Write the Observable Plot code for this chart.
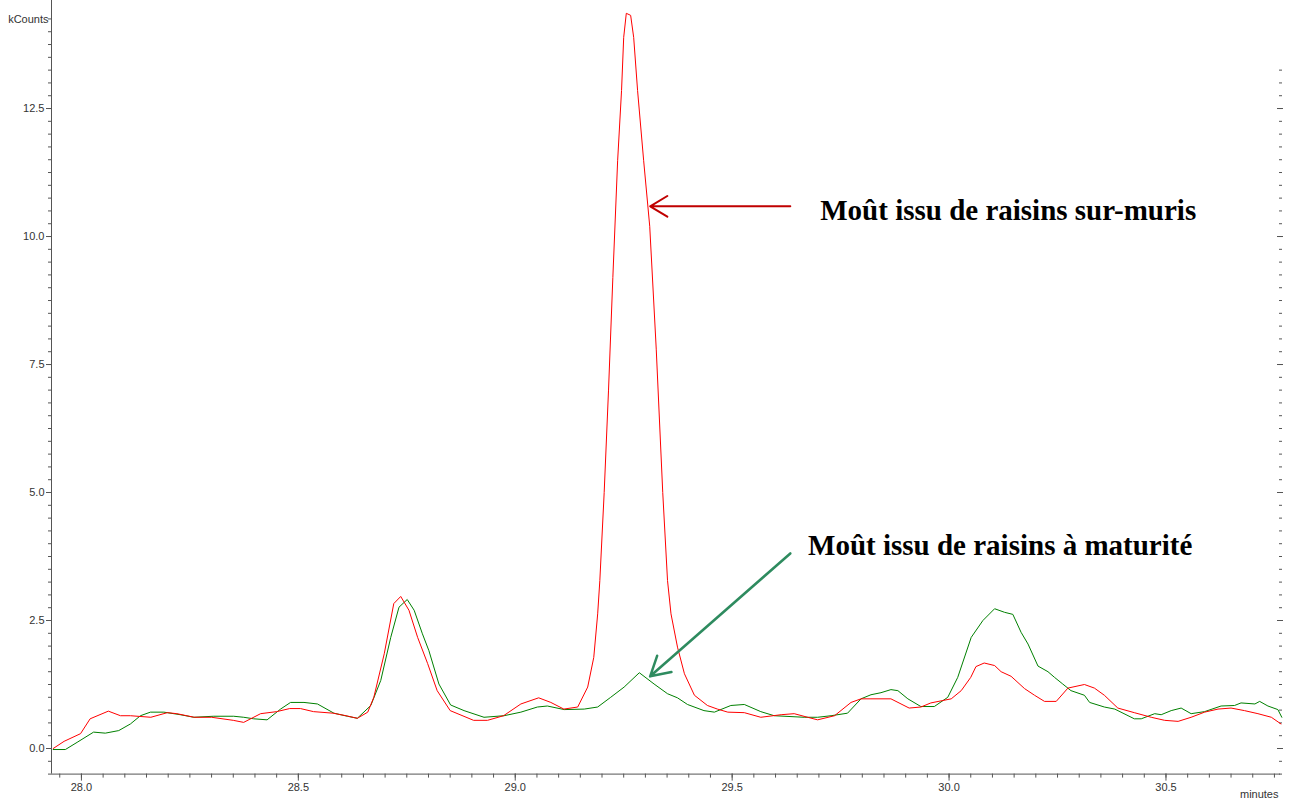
<!DOCTYPE html>
<html><head><meta charset="utf-8">
<script src="https://cdn.jsdelivr.net/npm/d3@7"></script>
<script src="https://cdn.jsdelivr.net/npm/@observablehq/plot@0.6"></script>
<style>html,body{margin:0;padding:0;background:#fff;} #chart svg{display:block}</style>
</head><body><div id="chart"></div>
<script>
// Red trace: Moût issu de raisins sur-muris
const redTime = [27.935,27.96,27.998,28.02,28.062,28.09,28.113,28.16,28.198,28.22,28.26,28.30,28.35,28.374,28.413,28.45,28.48,28.505,28.535,28.58,28.61,28.636,28.66,28.674,28.698,28.72,28.736,28.755,28.775,28.798,28.82,28.85,28.904,28.936,28.973,29.013,29.054,29.082,29.112,29.144,29.167,29.181,29.19,29.195,29.205,29.215,29.225,29.236,29.245,29.25,29.256,29.266,29.273,29.282,29.296,29.31,29.325,29.34,29.351,29.359,29.374,29.39,29.413,29.443,29.466,29.49,29.528,29.566,29.613,29.643,29.674,29.697,29.736,29.774,29.797,29.82,29.866,29.908,29.935,29.958,30.005,30.028,30.05,30.062,30.081,30.105,30.12,30.143,30.174,30.197,30.22,30.247,30.274,30.312,30.335,30.358,30.389,30.427,30.466,30.497,30.528,30.558,30.589,30.62,30.65,30.681,30.712,30.743,30.765];
const redCounts = [0.00,0.14,0.29,0.58,0.73,0.64,0.64,0.61,0.70,0.68,0.61,0.61,0.55,0.51,0.68,0.72,0.78,0.78,0.72,0.69,0.64,0.59,0.71,1.00,1.85,2.83,2.97,2.70,2.17,1.66,1.13,0.74,0.55,0.55,0.64,0.87,0.99,0.90,0.77,0.81,1.20,1.78,2.63,3.28,5.0,7.0,9.2,11.48,12.85,13.89,14.36,14.32,13.89,12.85,11.48,10.2,7.8,5.0,3.28,2.63,1.98,1.46,1.04,0.84,0.77,0.71,0.70,0.61,0.66,0.68,0.61,0.56,0.64,0.90,0.97,0.97,0.97,0.79,0.81,0.89,0.97,1.13,1.39,1.60,1.67,1.62,1.50,1.41,1.17,1.04,0.92,0.92,1.18,1.25,1.18,1.04,0.79,0.70,0.61,0.55,0.53,0.61,0.71,0.77,0.79,0.74,0.68,0.61,0.48];

// Green trace: Moût issu de raisins à maturité
const greenTime = [27.935,27.963,27.99,28.028,28.055,28.086,28.113,28.136,28.159,28.19,28.228,28.259,28.305,28.351,28.374,28.397,28.428,28.459,28.482,28.513,28.544,28.582,28.613,28.636,28.667,28.69,28.713,28.732,28.751,28.767,28.786,28.801,28.824,28.851,28.882,28.928,28.974,29.013,29.051,29.074,29.113,29.159,29.19,29.22,29.251,29.286,29.32,29.351,29.374,29.397,29.435,29.459,29.497,29.528,29.566,29.597,29.666,29.697,29.728,29.766,29.797,29.82,29.843,29.866,29.882,29.905,29.935,29.966,29.997,30.02,30.051,30.078,30.105,30.128,30.147,30.166,30.182,30.205,30.228,30.243,30.262,30.281,30.312,30.324,30.358,30.382,30.427,30.443,30.474,30.489,30.512,30.535,30.558,30.589,30.627,30.658,30.673,30.705,30.716,30.735,30.758,30.767];
const greenCounts = [-0.02,-0.02,0.12,0.32,0.30,0.35,0.48,0.64,0.71,0.71,0.66,0.61,0.63,0.63,0.61,0.58,0.56,0.77,0.90,0.90,0.87,0.69,0.63,0.59,0.84,1.33,2.17,2.76,2.91,2.70,2.24,1.91,1.26,0.85,0.74,0.61,0.64,0.71,0.81,0.83,0.76,0.77,0.81,1.00,1.20,1.48,1.26,1.07,0.99,0.86,0.74,0.71,0.84,0.86,0.72,0.64,0.61,0.61,0.64,0.69,0.97,1.05,1.09,1.15,1.13,0.97,0.82,0.82,1.00,1.39,2.17,2.50,2.73,2.66,2.62,2.27,2.04,1.61,1.50,1.39,1.26,1.13,1.04,0.90,0.81,0.77,0.58,0.58,0.68,0.66,0.74,0.79,0.68,0.72,0.83,0.84,0.89,0.87,0.92,0.83,0.76,0.61];

// Axes
const xDomain = [27.931, 30.764];
const yDomain = [-0.5, 14.61];
const xMajorTicks = [28.0, 28.5, 29.0, 29.5, 30.0, 30.5];
const xMinorTicks = d3.range(559, 616).map(i => i / 20);
const yMajorTicks = [0, 2.5, 5.0, 7.5, 10.0, 12.5];
const yMinorLeftTicks = d3.range(-2, 58).map(i => i / 4);
const yMinorRightTicks = d3.range(-2, 54).map(i => i / 4);

// Annotations (arrow start/end in data units)
const annotLabels = ["Moût issu de raisins sur-muris", "Moût issu de raisins à maturité"];
const annotLabelTime = [29.703, 29.675];
const annotLabelCounts = [10.51, 3.96];
const arrowFromTime = [29.634, 29.634];
const arrowFromCounts = [10.59, 3.81];
const arrowToTime = [29.311, 29.311];
const arrowToCounts = [10.59, 1.41];

const red = redTime.map((t, i) => ({t, v: redCounts[i]}));
const green = greenTime.map((t, i) => ({t, v: greenCounts[i]}));
const annots = annotLabels.map((label, i) => ({
  label, lx: annotLabelTime[i], ly: annotLabelCounts[i],
  fx: arrowFromTime[i], fy: arrowFromCounts[i], tx: arrowToTime[i], ty: arrowToCounts[i]
}));

const axisColor = "#555";
const chart = Plot.plot({
  width: 1292, height: 805,
  marginLeft: 51, marginRight: 12, marginTop: 0, marginBottom: 31.4,
  x: {domain: xDomain},
  y: {domain: yDomain},
  style: {fontFamily: "'Liberation Sans', Arial, sans-serif", fontSize: "11px", color: "#333", background: "#fff"},
  marks: [
    Plot.ruleX([xDomain[0]], {stroke: axisColor}),
    Plot.ruleY([yDomain[0]], {stroke: axisColor}),
    Plot.axisX(xMajorTicks, {anchor: "bottom", tickSize: 7, tickPadding: 2, tickFormat: d => d.toFixed(1), label: null, stroke: axisColor, fill: "#333"}),
    Plot.axisX(xMinorTicks, {anchor: "bottom", tickSize: 4, fill: "none", label: null, stroke: axisColor}),
    Plot.axisY(yMajorTicks, {anchor: "left", tickSize: 5, tickPadding: 2, tickFormat: d => d.toFixed(1), label: null, stroke: axisColor, fill: "#333"}),
    Plot.axisY(yMinorLeftTicks, {anchor: "left", tickSize: 3, fill: "none", label: null, stroke: axisColor}),
    Plot.axisY(yMajorTicks, {anchor: "right", tickSize: 6, dx: -4, fill: "none", label: null, stroke: axisColor}),
    Plot.axisY(yMinorRightTicks, {anchor: "right", tickSize: 3, dx: -2, fill: "none", label: null, stroke: axisColor}),
    Plot.text(["kCounts"], {text: d => d, frameAnchor: "top-left", dx: -3, dy: 15, textAnchor: "end", fill: "#333"}),
    Plot.text(["minutes"], {text: d => d, frameAnchor: "bottom-right", dx: -2, dy: 24, textAnchor: "end", fill: "#333"}),
    Plot.line(green, {x: "t", y: "v", stroke: "#008000", strokeWidth: 1}),
    Plot.line(red, {x: "t", y: "v", stroke: "#ff0000", strokeWidth: 1}),
    Plot.arrow(annots.slice(0, 1), {x1: "fx", y1: "fy", x2: "tx", y2: "ty", stroke: "#c00000", strokeWidth: 2, headLength: 15, headAngle: 62}),
    Plot.arrow(annots.slice(1, 2), {x1: "fx", y1: "fy", x2: "tx", y2: "ty", stroke: "#2e8b5f", strokeWidth: 2.5, headLength: 13, headAngle: 60}),
    Plot.text(annots, {x: "lx", y: "ly", text: "label", textAnchor: "start", fontFamily: "'Liberation Serif', 'Times New Roman', serif", fontWeight: "bold", fontSize: 29, fill: "#000"})
  ]
});
document.getElementById("chart").appendChild(chart);
</script>
</body></html>
